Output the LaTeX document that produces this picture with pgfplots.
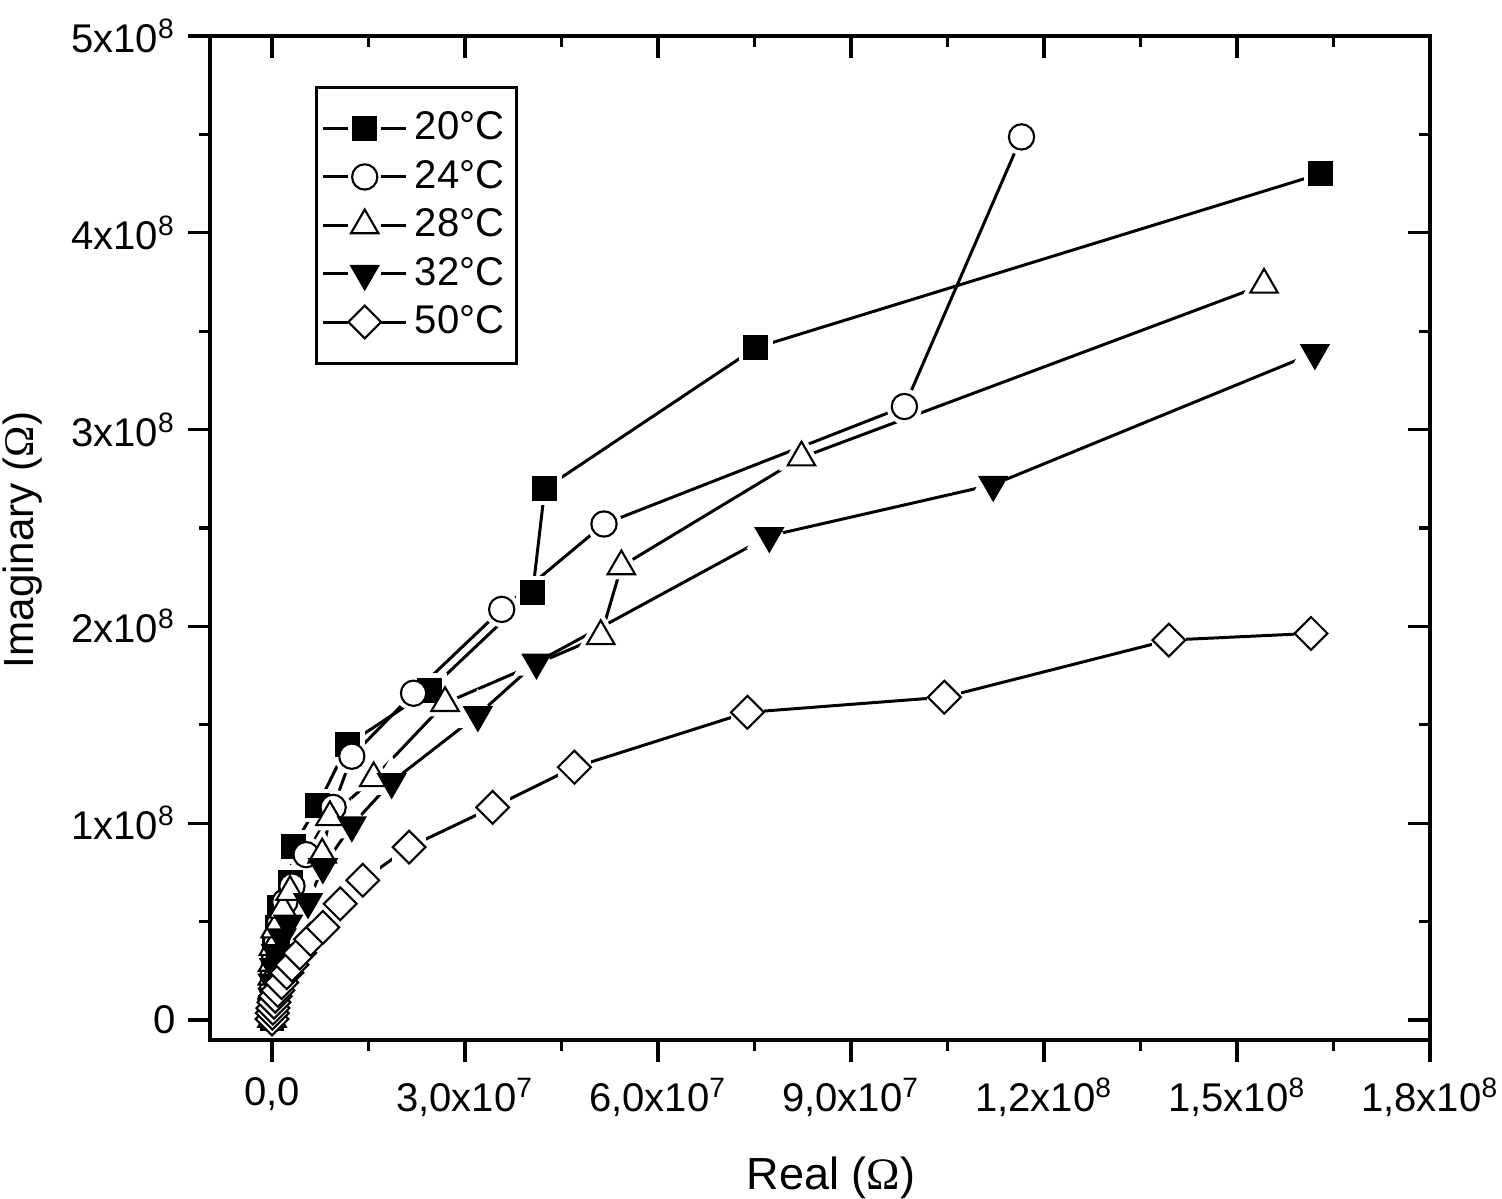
\documentclass[border=0pt]{standalone}
\usepackage{fontspec}
\setmainfont{Liberation Sans}
\newfontfamily\serifo{Liberation Serif}
\usepackage{pgfplots}
\usepackage{pgfplotstable}
\pgfplotsset{compat=1.18}

% values in units of 10^6 Ohm
\pgfplotstableread{
x y
0 0.5
0.01 3
0.02 7
0.05 13
0.1 20
0.2 28
0.4 37
0.8 47
1.2 57
2.8 70
3.3 88
7.1 109
11.8 140
24.5 167.5
40.5 217
42.4 270
75.2 341.6
163.0 430
}\tA
\pgfplotstableread{
x y
0 0.5
0.02 5
0.05 10
0.1 16
0.2 23
0.4 31
0.7 40
1.2 50
2.0 60
3.1 68
5.3 84
9.5 108
12.4 134
22.0 166
35.7 208.6
51.6 252
98.3 311.7
116.5 448.7
}\tB
\pgfplotstableread{
x y
0 0.5
0.01 8
0.03 15
0.05 22
0.1 29
0.2 37
0.5 46
1.7 56
2.8 65
7.8 84
9.0 103
15.8 122.8
26.9 161
51.1 195
54.3 230.5
82.3 285.8
154.2 373.6
}\tC
\pgfplotstableread{
x y
0 0.5
0.02 6
0.05 12
0.1 19
0.3 27
0.6 34
1.5 42
2.5 49
5.6 60
7.9 77.7
12.4 99
18.6 121
32.0 155
41.1 181.7
77.3 246
112.1 272
162.1 339
}\tD
\pgfplotstableread{
x y
0 0.5
0.05 3.5
0.15 6
0.3 9
0.5 12
0.9 15
1.5 19
2.3 24
3.1 28
4.3 34
6.0 41
7.9 47
10.6 59
14.1 71
21.3 87.8
34.3 108
47.0 128.4
73.9 156.3
104.5 164
139.4 193
161.5 196.4
}\tE

\pgfplotsset{
  ser/.style={black, line width=0.85pt},
  mA/.style={mark=square*, mark size=3.3pt, mark options={solid, fill=black, line width=0.5pt}},
  mB/.style={mark=*, mark size=3.6pt, mark options={solid, fill=white, line width=0.6pt}},
  mC/.style={mark=triangle*, mark size=4.5pt, mark options={solid, fill=white, line width=0.6pt}},
  mD/.style={mark=triangle*, mark size=4.5pt, mark options={solid, fill=black, rotate=180, line width=0.5pt}},
  mE/.style={mark=square*, mark size=3.3pt, mark options={solid, fill=white, rotate=45, line width=0.6pt}},
  halo/.style={only marks, forget plot, mark options={draw=white, fill=white, line width=3pt}},
  legend image code/.code={
    \draw[mark=none] (0cm,0cm) -- (0.25cm,0cm);
    \draw[mark=none] (0.58cm,0cm) -- (0.83cm,0cm);
    \draw[only marks] plot coordinates {(0.415cm,0cm)};
  },
  common/.style={
    at={(0,0)}, anchor=south west,
    scale only axis, width=122mm, height=100.4mm,
    xmin=-9.64, xmax=180, ymin=-10.2, ymax=500,
    xtick={0,30,60,90,120,150,180},
    ytick={0,100,200,300,400,500},
    minor x tick num=1, minor y tick num=1,
    major tick length=2.2mm, minor tick length=1.1mm,
    every tick/.style={black, line width=0.9pt},
    axis line style={line width=0.9pt},
  }
}

\begin{document}
\begin{tikzpicture}
\begin{axis}[
  common,
  xtick pos=left, ytick pos=left, tick align=outside,
  xticklabels={{0,0},{3,0x10\textsuperscript{7}},{6,0x10\textsuperscript{7}},{9,0x10\textsuperscript{7}},{1,2x10\textsuperscript{8}},{1,5x10\textsuperscript{8}},{1,8x10\textsuperscript{8}}},
  yticklabels={0,{1x10\textsuperscript{8}},{2x10\textsuperscript{8}},{3x10\textsuperscript{8}},{4x10\textsuperscript{8}},{5x10\textsuperscript{8}}},
  tick label style={font=\fontsize{11.4}{13}\selectfont},
  xticklabel style={yshift=-1pt},
  xlabel={Real ({\serifo Ω})},
  ylabel={Imaginary ({\serifo Ω})},
  xlabel style={at={(axis description cs:0.509,-0.137)}, anchor=center, font=\fontsize{12.8}{14}\selectfont},
  ylabel style={at={(axis description cs:-0.1533,0.498)}, anchor=center, font=\fontsize{12.0}{14}\selectfont},
  legend style={at={(axis description cs:0.0861,0.9502)}, anchor=north west,
    draw=black, line width=0.8pt, font=\fontsize{11.4}{13}\selectfont,
    row sep=0.3pt, inner xsep=1.5pt, inner ysep=5pt},
  legend cell align=left,
]
% connecting lines
\addplot[ser, forget plot] table {\tA};
\addplot[ser, forget plot] table {\tB};
\addplot[ser, forget plot] table {\tC};
\addplot[ser, forget plot] table {\tD};
\addplot[ser, forget plot] table {\tE};
% white halos (gaps between lines and symbols)
\addplot[mA, halo] table {\tA};
\addplot[mB, halo] table {\tB};
\addplot[mC, halo] table {\tC};
\addplot[mD, halo] table {\tD};
\addplot[mE, halo] table {\tE};
% symbols
\addplot[ser, mA, only marks] table {\tA};
\addlegendentry{20°C}
\addplot[ser, mB, only marks] table {\tB};
\addlegendentry{24°C}
\addplot[ser, mC, only marks] table {\tC};
\addlegendentry{28°C}
\addplot[ser, mD, only marks] table {\tD};
\addlegendentry{32°C}
\addplot[ser, mE, only marks] table {\tE};
\addlegendentry{50°C}
\end{axis}
\begin{axis}[
  common,
  xtick pos=right, ytick pos=right, tick align=inside,
  xticklabels={}, yticklabels={},
]
\end{axis}
\pgfresetboundingbox
\path[use as bounding box] (-21mm,-15.9mm) rectangle (129.2mm,104.0mm);
\end{tikzpicture}
\end{document}
